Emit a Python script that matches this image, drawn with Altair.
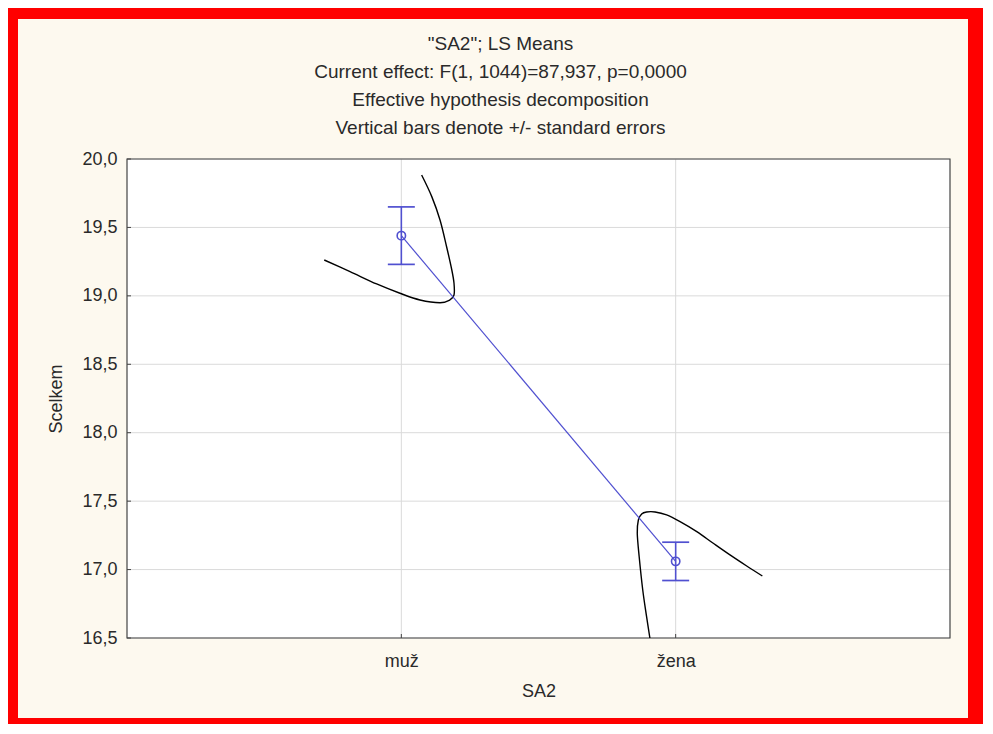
import altair as alt
import pandas as pd

# ---- data ----
categories = ["muž", "žena"]
cat_pos = [1, 2]
means = [19.44, 17.06]
se = [0.21, 0.14]
y_ticks = [16.5, 17.0, 17.5, 18.0, 18.5, 19.0, 19.5, 20.0]

curve1_x = [0.719, 0.813, 0.910, 0.995, 1.068, 1.141, 1.177, 1.192, 1.192, 1.184, 1.165, 1.141, 1.111, 1.074]
curve1_y = [19.262, 19.177, 19.087, 19.019, 18.970, 18.950, 18.970, 19.006, 19.092, 19.189, 19.359, 19.554, 19.725, 19.883]
curve2_x = [1.906, 1.894, 1.880, 1.867, 1.860, 1.864, 1.876, 1.894, 1.925, 1.967, 2.016, 2.077, 2.137, 2.198, 2.259, 2.316]
curve2_y = [16.500, 16.656, 16.851, 17.094, 17.265, 17.362, 17.406, 17.421, 17.421, 17.399, 17.350, 17.277, 17.192, 17.107, 17.026, 16.953]

title_lines = ['"SA2"; LS Means',
               'Current effect: F(1, 1044)=87,937, p=0,0000',
               'Effective hypothesis decomposition',
               'Vertical bars denote +/- standard errors']

# ---- layout ----
W, H = 823, 479
FONT = "Liberation Sans"
BLUE = "#5050D0"
CREAM = "#FDF9EF"

xs = alt.Scale(domain=[0, 3], nice=False, zero=False)
ys = alt.Scale(domain=[16.5, 20.0], nice=False, zero=False)

label_expr = " : ".join(
    [f"datum.value == {p} ? '{c}'" for p, c in zip(cat_pos, categories)] + ["''"])

x_axis = alt.Axis(values=cat_pos, labelExpr=label_expr, grid=False, ticks=False, tickSize=0,
                  domain=False, labelFontSize=18, labelPadding=14, titleFontSize=18,
                  titlePadding=12, labelFont=FONT, titleFont=FONT, labelColor="#2a2a2a",
                  titleColor="#2a2a2a", titleFontWeight="normal", zindex=1)
y_axis = alt.Axis(values=y_ticks, labelExpr="replace(format(datum.value, '.1f'), '.', ',')",
                  grid=False, ticks=False, tickSize=0, domain=False, labelFontSize=18,
                  labelPadding=10, titleFontSize=18, titlePadding=16, labelFont=FONT,
                  titleFont=FONT, labelColor="#2a2a2a", titleColor="#2a2a2a",
                  titleFontWeight="normal", zindex=1)


def X(field):
    return alt.X(field, type="quantitative", scale=xs, axis=x_axis, title="SA2")


def Y(field):
    return alt.Y(field, type="quantitative", scale=ys, axis=y_axis, title="Scelkem")


means_df = pd.DataFrame({"x": cat_pos, "cat": categories, "m": means,
                         "lo": [m - s for m, s in zip(means, se)],
                         "hi": [m + s for m, s in zip(means, se)]})
ticks_df = pd.DataFrame({"y": y_ticks})
cat_df = pd.DataFrame({"x": cat_pos})
curves_df = pd.concat([
    pd.DataFrame({"x": curve1_x, "y": curve1_y, "c": "a", "o": range(len(curve1_x))}),
    pd.DataFrame({"x": curve2_x, "y": curve2_y, "c": "b", "o": range(len(curve2_x))}),
])
one = pd.DataFrame({"a": [0]})

bg = alt.Chart(one).mark_rect(color=CREAM, clip=False).encode(
    x=alt.value(-109), x2=alt.value(841), y=alt.value(-140), y2=alt.value(559))
plot_bg = alt.Chart(one).mark_rect(color="white").encode(
    x=alt.value(0), x2=alt.value(W), y=alt.value(0), y2=alt.value(H))
hgrid = alt.Chart(ticks_df).mark_rule(color="#DADADA", strokeWidth=1).encode(
    y=Y("y"), x=alt.value(0), x2=alt.value(W))
vgrid = alt.Chart(cat_df).mark_rule(color="#DADADA", strokeWidth=1).encode(
    x=X("x"), y=alt.value(0), y2=alt.value(H))
ytk = alt.Chart(ticks_df).mark_rule(color="#444", strokeWidth=1).encode(
    y=Y("y"), x=alt.value(0), x2=alt.value(4))
xtk = alt.Chart(cat_df).mark_rule(color="#444", strokeWidth=1).encode(
    x=X("x"), y=alt.value(H - 4), y2=alt.value(H))
border = alt.Chart(one).mark_rect(fillOpacity=0, stroke="#444", strokeWidth=1.2).encode(
    x=alt.value(0), x2=alt.value(W), y=alt.value(0), y2=alt.value(H))

curves = alt.Chart(curves_df).mark_line(color="black", strokeWidth=1.4, interpolate="cardinal").encode(
    x=X("x"), y=Y("y"), detail="c:N", order="o:Q")

mean_line = alt.Chart(means_df).mark_line(color=BLUE, strokeWidth=1.2).encode(
    x=X("x"), y=Y("m"))
err = alt.Chart(means_df).mark_rule(color=BLUE, strokeWidth=1.6).encode(
    x=X("x"), y=Y("lo"), y2="hi:Q")
cap_lo = alt.Chart(means_df).mark_tick(color=BLUE, orient="horizontal", size=27, thickness=1.7, opacity=1).encode(
    x=X("x"), y=Y("lo"))
cap_hi = alt.Chart(means_df).mark_tick(color=BLUE, orient="horizontal", size=27, thickness=1.7, opacity=1).encode(
    x=X("x"), y=Y("hi"))
pts = alt.Chart(means_df).mark_point(color=BLUE, shape="circle", size=70, strokeWidth=1.6,
                                     filled=False, opacity=1).encode(x=X("x"), y=Y("m"))

chart = alt.layer(bg, plot_bg, hgrid, vgrid, ytk, xtk, border, curves, mean_line, err, cap_lo, cap_hi, pts).properties(
    width=W, height=H,
    title=alt.TitleParams(title_lines, fontSize=19, font=FONT, color="#2a2a2a", fontWeight="normal",
                          lineHeight=28, anchor="middle", dx=-38, offset=-119),
    autosize=alt.AutoSizeParams(type="none"),
    padding={"left": 119, "top": 151, "right": 33, "bottom": 86},
    background="#FF0000",
).configure_view(stroke=None)

chart.save("out.html", embed_options={"renderer": "svg", "actions": False})
